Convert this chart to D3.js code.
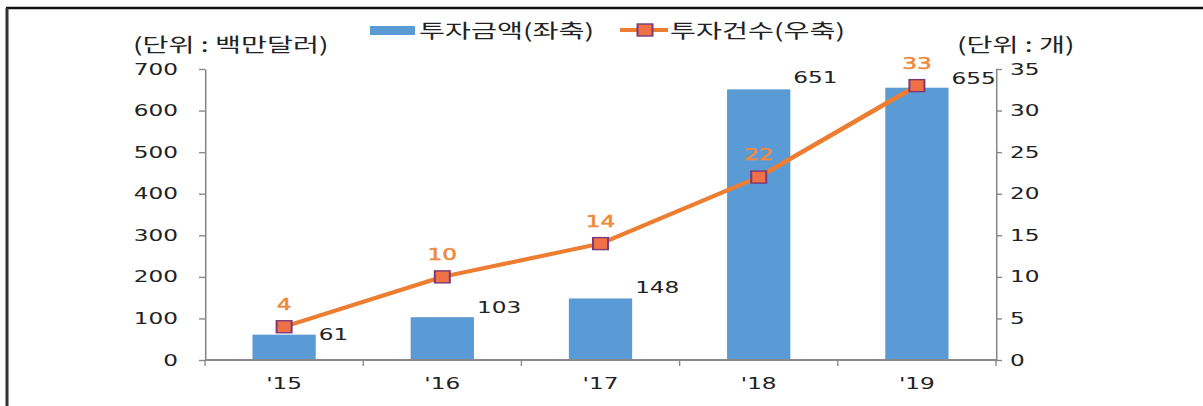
<!DOCTYPE html>
<html>
<head>
<meta charset="utf-8">
<script src="https://cdn.jsdelivr.net/npm/d3@7"></script>
<style>
  html, body { margin: 0; padding: 0; background: #fff; }
  svg { display: block; }
  .num { font-family: "DejaVu Sans", Verdana, sans-serif; font-size: 16px; fill: #222; }
  .kr { font-family: "Noto Sans CJK KR", "Noto Sans", sans-serif; font-size: 19.5px; fill: #222; }
</style>
</head>
<body>
<div id="chart"></div>
<script>
// Overseas investment: amount (left axis, million USD) and number of deals (right axis)
const categories = ["'15", "'16", "'17", "'18", "'19"];
const amounts = [61, 103, 148, 651, 655];
const counts = [4, 10, 14, 22, 33];
const leftTicks = [0, 100, 200, 300, 400, 500, 600, 700];
const rightTicks = [0, 5, 10, 15, 20, 25, 30, 35];
const seriesNames = ["투자금액(좌축)", "투자건수(우축)"];
const leftUnit = "(단위 : 백만달러)";
const rightUnit = "(단위 : 개)";

// label nudges (px above the bar top) for the amount labels
const amountLabelLift = [1, 10, 11, 12, 10];

const W = 1203, H = 406;
const SX = 1.45;              // horizontal stretch of the drawing
const VW = W / SX;            // internal width before stretching
const sx = v => v / SX;       // screen x -> internal x

const BLUE = "#5B9BD5", ORANGE = "#ED7D31", AXIS = "#8a8a8a";

const svg = d3.select("#chart").append("svg")
  .attr("width", W).attr("height", H)
  .attr("viewBox", `0 0 ${VW} ${H}`)
  .attr("preserveAspectRatio", "none");

// outer frame (top and left edges)
svg.append("line").attr("x1", sx(6)).attr("x2", VW).attr("y1", 8).attr("y2", 8)
  .attr("stroke", "#111").attr("stroke-width", 2.5);
svg.append("line").attr("x1", sx(7)).attr("x2", sx(7)).attr("y1", 8).attr("y2", H)
  .attr("stroke", "#333").attr("stroke-width", 3 / SX);

const x = d3.scaleBand().domain(categories)
  .range([sx(205), sx(996)]).paddingInner(0.6).paddingOuter(0.3);
const yL = d3.scaleLinear().domain([0, 700]).range([360, 69]);
const yR = d3.scaleLinear().domain([0, 35]).range([360, 69]);
const cx = c => x(c) + x.bandwidth() / 2;

// bars
svg.append("g").selectAll("rect").data(amounts).join("rect")
  .attr("x", (d, i) => x(categories[i]))
  .attr("width", x.bandwidth())
  .attr("y", d => yL(d))
  .attr("height", d => yL(0) - yL(d))
  .attr("fill", BLUE);

// left axis
const gL = svg.append("g").attr("transform", `translate(${sx(205)},0)`)
  .call(d3.axisLeft(yL).tickValues(leftTicks).tickSize(sx(6)).tickPadding(sx(21)).tickSizeOuter(0));
gL.select(".domain").attr("stroke", AXIS).attr("stroke-width", 1.6 / SX);
gL.selectAll(".tick line").attr("stroke", AXIS).attr("stroke-width", 1.4);
gL.selectAll(".tick text").attr("class", "num").attr("font-family", null).attr("font-size", null);

// right axis
const gR = svg.append("g").attr("transform", `translate(${sx(996)},0)`)
  .call(d3.axisRight(yR).tickValues(rightTicks).tickSize(sx(6)).tickPadding(sx(8)).tickSizeOuter(0));
gR.select(".domain").attr("stroke", AXIS).attr("stroke-width", 1.6 / SX);
gR.selectAll(".tick line").attr("stroke", AXIS).attr("stroke-width", 1.4);
gR.selectAll(".tick text").attr("class", "num").attr("font-family", null).attr("font-size", null);

// category axis: baseline with ticks on band boundaries
const gX = svg.append("g");
gX.append("line").attr("x1", sx(205)).attr("x2", sx(996)).attr("y1", yL(0)).attr("y2", yL(0))
  .attr("stroke", AXIS).attr("stroke-width", 1.8);
const bounds = d3.range(categories.length + 1).map(i => x.range()[0] + i * x.step());
gX.selectAll("line.b").data(bounds).join("line").attr("class", "b")
  .attr("x1", d => d).attr("x2", d => d).attr("y1", yL(0)).attr("y2", yL(0) + 6)
  .attr("stroke", AXIS).attr("stroke-width", 1.4 / SX);
gX.selectAll("text").data(categories).join("text").attr("class", "num")
  .attr("x", d => cx(d)).attr("y", 389).attr("text-anchor", "middle").text(d => d);

// amount labels
svg.append("g").selectAll("text").data(amounts).join("text").attr("class", "num")
  .attr("x", (d, i) => x(categories[i]) + x.bandwidth() + sx(3))
  .attr("y", (d, i) => yL(d) - amountLabelLift[i] + 6)
  .text(d => d);

// count line with square markers
const line = d3.line().x((d, i) => cx(categories[i])).y(d => yR(d));
svg.append("path").datum(counts).attr("d", line)
  .attr("fill", "none").attr("stroke", ORANGE).attr("stroke-width", 4).attr("stroke-linejoin", "round");
const mw = sx(15), mh = 12;
svg.append("g").selectAll("rect").data(counts).join("rect")
  .attr("x", (d, i) => cx(categories[i]) - mw / 2)
  .attr("y", d => yR(d) - mh / 2)
  .attr("width", mw).attr("height", mh)
  .attr("fill", "#EF7145").attr("stroke", "#7B3A78").attr("stroke-width", 1.4);
svg.append("g").selectAll("text").data(counts).join("text").attr("class", "num")
  .attr("x", (d, i) => cx(categories[i]))
  .attr("y", d => yR(d) - 17)
  .attr("text-anchor", "middle")
  .style("fill", "#EE8A3C").style("stroke", "#EE8A3C").style("stroke-width", 0.5)
  .text(d => d);

// unit captions
svg.append("text").attr("class", "kr").attr("x", sx(133)).attr("y", 52).text(leftUnit);
svg.append("text").attr("class", "kr").attr("x", sx(957)).attr("y", 52).text(rightUnit);

// legend
const lg = svg.append("g");
lg.append("rect").attr("x", sx(370)).attr("y", 26).attr("width", sx(45)).attr("height", 9).attr("fill", BLUE);
lg.append("text").attr("class", "kr").attr("x", sx(419)).attr("y", 38).text(seriesNames[0]);
lg.append("line").attr("x1", sx(620)).attr("x2", sx(668)).attr("y1", 30).attr("y2", 30)
  .attr("stroke", ORANGE).attr("stroke-width", 4);
lg.append("rect").attr("x", sx(645) - mw / 2).attr("y", 30 - mh / 2).attr("width", mw).attr("height", mh)
  .attr("fill", "#EF7145").attr("stroke", "#7B3A78").attr("stroke-width", 1.4);
lg.append("text").attr("class", "kr").attr("x", sx(670)).attr("y", 38).text(seriesNames[1]);
</script>
</body>
</html>
